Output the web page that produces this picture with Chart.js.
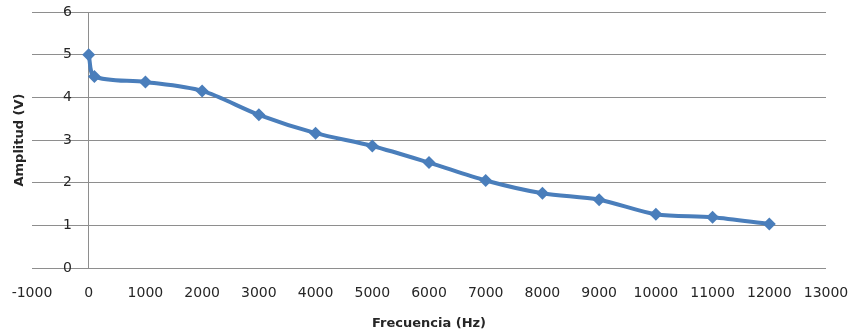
<!DOCTYPE html>
<html>
<head>
<meta charset="utf-8">
<script src="https://cdn.jsdelivr.net/npm/chart.js@4"></script>
<style>
    html, body { margin: 0; padding: 0; background: #fff; }
    #wrap { width: 855px; height: 333px; }
</style>
</head>
<body>
<div id="wrap"><canvas id="ampChart"></canvas></div>
<script>
// Frequency response
const frecuencias = [0, 100, 1000, 2000, 3000, 4000, 5000, 6000, 7000, 8000, 9000, 10000, 11000, 12000];
const amplitudes = [5.0, 4.49, 4.36, 4.15, 3.59, 3.16, 2.86, 2.47, 2.05, 1.75, 1.60, 1.26, 1.19, 1.03];

const xMin = -1000, xMax = 13000, xStep = 1000;
const yMin = 0, yMax = 6, yStep = 1;

const lineBlue = '#4a7ebb';
const gridGray = '#8e8e8e';
const textColor = '#262626';

// Y title drawn at the far left, like Excel does
const yTitlePlugin = {
    id: 'yTitle',
    afterDraw(chart) {
        const ctx = chart.ctx;
        const area = chart.chartArea;
        ctx.save();
        ctx.translate(20, (area.top + area.bottom) / 2);
        ctx.rotate(-Math.PI / 2);
        ctx.font = 'bold 13px "DejaVu Sans"';
        ctx.fillStyle = textColor;
        ctx.textAlign = 'center';
        ctx.textBaseline = 'middle';
        ctx.fillText('Amplitud (V)', 0, 0);
        ctx.restore();
    }
};

new Chart(document.getElementById('ampChart'), {
    type: 'line',
    data: {
        datasets: [{
            label: 'Amplitud',
            data: frecuencias.map((f, i) => ({ x: f, y: amplitudes[i] })),
            borderColor: lineBlue,
            backgroundColor: lineBlue,
            borderWidth: 4,
            tension: 0.3,
            pointStyle: 'rectRot',
            pointRadius: 6.5,
            pointBorderWidth: 0,
            fill: false
        }]
    },
    options: {
        responsive: true,
        maintainAspectRatio: false,
        animation: false,
        layout: {
            padding: { left: 32, right: 29, top: 12, bottom: 0 }
        },
        plugins: {
            legend: { display: false },
            tooltip: { enabled: false }
        },
        scales: {
            x: {
                type: 'linear',
                position: 'bottom',
                min: xMin,
                max: xMax,
                grid: { display: false, drawTicks: false, tickLength: 0 },
                border: { display: false },
                ticks: {
                    stepSize: xStep,
                    padding: 17,
                    color: textColor,
                    font: { family: 'DejaVu Sans', size: 14 },
                    callback: v => String(v)
                },
                title: {
                    display: true,
                    text: 'Frecuencia (Hz)',
                    color: textColor,
                    font: { family: 'DejaVu Sans', size: 13, weight: 'bold' },
                    padding: { top: 13, bottom: 2 }
                },
                afterFit: s => {
                    s.height = 65;
                    s.paddingLeft = 0;
                    s.paddingRight = 0;
                }
            },
            // gridlines and labels; labels mirrored into the plot next to x = 0
            y: {
                type: 'linear',
                position: 'left',
                min: yMin,
                max: yMax,
                grid: { color: gridGray, lineWidth: 1, drawTicks: false, tickLength: 0 },
                border: { display: false },
                ticks: {
                    stepSize: yStep,
                    mirror: true,
                    padding: 31,
                    color: textColor,
                    font: { family: 'DejaVu Sans', size: 14 }
                },
                afterFit: s => {
                    s.width = 0;
                    s.paddingTop = 0;
                    s.paddingBottom = 0;
                }
            },
            // vertical axis line crossing at x = 0
            yLine: {
                type: 'linear',
                position: { x: 0 },
                min: yMin,
                max: yMax,
                grid: { display: false, drawTicks: false },
                border: { display: true, color: gridGray, width: 1 },
                ticks: { display: false }
            }
        }
    },
    plugins: [yTitlePlugin]
});
</script>
</body>
</html>
